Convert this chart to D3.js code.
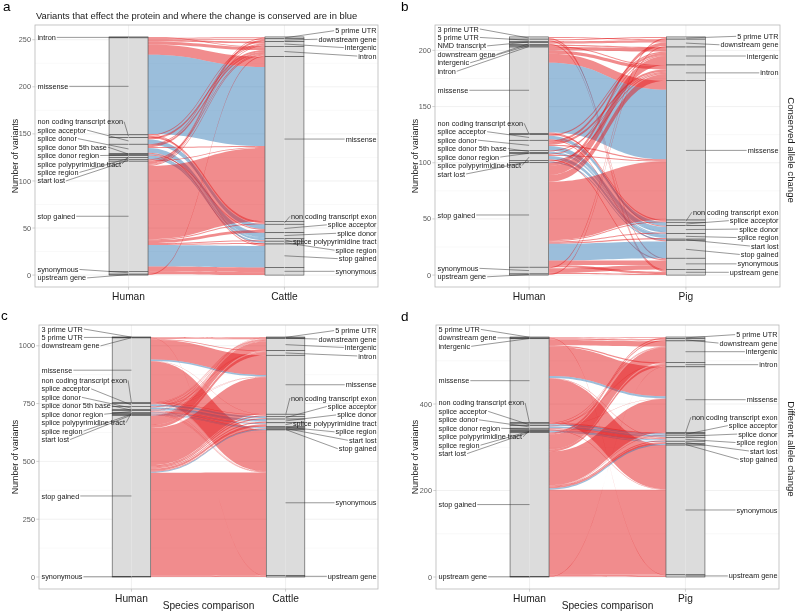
<!DOCTYPE html>
<html><head><meta charset="utf-8">
<script src="https://cdn.jsdelivr.net/npm/d3@7"></script>
<style>body{margin:0;background:#fff}svg{display:block;will-change:transform}text{-webkit-font-smoothing:antialiased}</style>
</head><body>
<svg id="chart" width="799" height="612"></svg>
<script>
// ---------------- DATA ----------------
const titleText = "Variants that effect the protein and where the change is conserved are in blue";

const humanA = ["intron","missense","non coding transcript exon","splice acceptor","splice donor","splice donor 5th base","splice donor region","splice polypyrimidine tract","splice region","start lost","stop gained","synonymous","upstream gene"];
const cattleA = ["5 prime UTR","downstream gene","intergenic","intron","missense","non coding transcript exon","splice acceptor","splice donor","splice polypyrimidine tract","splice region","stop gained","synonymous"];
// [human consequence, other-species consequence, variants, conserved protein change (1 = blue)]
const flowsA = [
 ["intron","intron",1,0],
 ["missense","5 prime UTR",1,0],["missense","downstream gene",1,0],["missense","intergenic",2,0],["missense","intron",3,0],
 ["missense","missense",11,0],["missense","missense",84,1],["missense","stop gained",1,0],
 ["non coding transcript exon","intergenic",1,0],["non coding transcript exon","non coding transcript exon",2,0],
 ["splice acceptor","intron",2,0],["splice acceptor","splice acceptor",5,1],
 ["splice donor","intergenic",1,0],["splice donor","intron",2,0],["splice donor","missense",1,0],["splice donor","splice donor",5,1],["splice donor","stop gained",1,0],
 ["splice donor 5th base","splice donor",1,1],
 ["splice donor region","splice acceptor",1,0],
 ["splice polypyrimidine tract","splice polypyrimidine tract",2,1],
 ["splice region","splice region",2,1],
 ["start lost","intron",1,0],["start lost","missense",1,0],
 ["stop gained","5 prime UTR",1,0],["stop gained","downstream gene",2,0],["stop gained","intergenic",1,0],["stop gained","intron",1,0],
 ["stop gained","missense",78,0],["stop gained","non coding transcript exon",1,0],["stop gained","splice acceptor",3,0],
 ["stop gained","splice polypyrimidine tract",1,0],["stop gained","splice region",1,0],["stop gained","stop gained",23,1],["stop gained","synonymous",5,0],
 ["synonymous","synonymous",3,0],
 ["upstream gene","intron",1,0]
];

const humanB = ["3 prime UTR","5 prime UTR","NMD transcript","downstream gene","intergenic","intron","missense","non coding transcript exon","splice acceptor","splice donor","splice donor 5th base","splice donor region","splice polypyrimidine tract","start lost","stop gained","synonymous","upstream gene"];
const pigB = ["5 prime UTR","downstream gene","intergenic","intron","missense","non coding transcript exon","splice acceptor","splice donor","splice region","start lost","stop gained","synonymous","upstream gene"];
const flowsB = [
 ["3 prime UTR","downstream gene",1,0],["3 prime UTR","upstream gene",1,0],
 ["5 prime UTR","5 prime UTR",1,0],["5 prime UTR","synonymous",1,0],
 ["NMD transcript","downstream gene",1,0],
 ["downstream gene","downstream gene",1,0],["downstream gene","upstream gene",1,0],
 ["intergenic","intergenic",1,0],
 ["intron","intron",1,0],
 ["missense","intergenic",3,0],["missense","intron",3,0],["missense","missense",8,0],["missense","missense",62,1],["missense","splice donor",1,0],
 ["non coding transcript exon","non coding transcript exon",1,0],
 ["splice acceptor","intergenic",1,0],["splice acceptor","splice acceptor",3,1],["splice acceptor","stop gained",1,0],
 ["splice donor","intergenic",2,0],["splice donor","intron",2,0],["splice donor","missense",1,0],["splice donor","splice donor",4,1],
 ["splice donor 5th base","intron",1,0],["splice donor 5th base","splice donor",1,1],
 ["splice donor region","splice region",1,1],
 ["splice polypyrimidine tract","intergenic",1,0],["splice polypyrimidine tract","missense",1,0],["splice polypyrimidine tract","splice region",3,1],["splice polypyrimidine tract","synonymous",1,0],
 ["start lost","intron",1,0],["start lost","start lost",1,1],
 ["stop gained","downstream gene",3,0],["stop gained","intergenic",8,0],["stop gained","intron",6,0],["stop gained","missense",52,0],
 ["stop gained","non coding transcript exon",1,0],["stop gained","splice donor",1,0],["stop gained","splice region",1,0],
 ["stop gained","stop gained",15,1],["stop gained","synonymous",4,0],["stop gained","upstream gene",2,0],
 ["synonymous","5 prime UTR",1,0],["synonymous","synonymous",4,0],["synonymous","upstream gene",1,0],
 ["upstream gene","downstream gene",1,0]
];

const humanC = ["3 prime UTR","5 prime UTR","downstream gene","missense","non coding transcript exon","splice acceptor","splice donor","splice donor 5th base","splice donor region","splice polypyrimidine tract","splice region","start lost","stop gained","synonymous"];
const cattleC = ["5 prime UTR","downstream gene","intergenic","intron","missense","non coding transcript exon","splice acceptor","splice donor","splice polypyrimidine tract","splice region","start lost","stop gained","synonymous","upstream gene"];
const flowsC = [
 ["3 prime UTR","downstream gene",1,0],
 ["5 prime UTR","5 prime UTR",1,0],
 ["downstream gene","downstream gene",1,0],["downstream gene","upstream gene",1,0],
 ["missense","5 prime UTR",1,0],["missense","downstream gene",1,0],["missense","intergenic",3,0],["missense","intron",3,0],
 ["missense","missense",85,0],["missense","missense",7,1],["missense","non coding transcript exon",1,0],["missense","synonymous",178,0],
 ["non coding transcript exon","intergenic",1,0],["non coding transcript exon","non coding transcript exon",3,0],["non coding transcript exon","synonymous",1,0],
 ["splice acceptor","intergenic",2,0],["splice acceptor","intron",1,0],["splice acceptor","missense",1,0],["splice acceptor","splice acceptor",7,1],["splice acceptor","synonymous",1,0],
 ["splice donor","intergenic",2,0],["splice donor","intron",2,0],["splice donor","missense",1,0],["splice donor","splice donor",9,1],["splice donor","synonymous",1,0],
 ["splice donor 5th base","intergenic",1,0],["splice donor 5th base","splice donor",2,1],
 ["splice donor region","intergenic",2,0],["splice donor region","missense",1,0],["splice donor region","splice polypyrimidine tract",2,0],["splice donor region","splice region",2,0],["splice donor region","synonymous",1,0],
 ["splice polypyrimidine tract","splice polypyrimidine tract",4,1],["splice polypyrimidine tract","synonymous",1,0],
 ["splice region","intron",1,0],["splice region","splice region",3,1],["splice region","synonymous",1,0],
 ["start lost","intergenic",1,0],["start lost","start lost",2,1],
 ["stop gained","5 prime UTR",1,0],["stop gained","downstream gene",1,0],["stop gained","intergenic",40,0],["stop gained","intron",13,0],
 ["stop gained","missense",160,0],["stop gained","non coding transcript exon",5,0],["stop gained","splice acceptor",5,0],["stop gained","splice donor",5,0],
 ["stop gained","splice polypyrimidine tract",10,0],["stop gained","splice region",1,0],["stop gained","start lost",3,0],["stop gained","stop gained",4,1],
 ["stop gained","synonymous",445,0],["stop gained","upstream gene",4,0],
 ["synonymous","synonymous",1,0],["synonymous","upstream gene",1,0]
];

const humanD = ["5 prime UTR","downstream gene","intergenic","missense","non coding transcript exon","splice acceptor","splice donor","splice donor region","splice polypyrimidine tract","splice region","start lost","stop gained","upstream gene"];
const pigD = ["5 prime UTR","downstream gene","intergenic","intron","missense","non coding transcript exon","splice acceptor","splice donor","splice region","start lost","stop gained","synonymous","upstream gene"];
const flowsD = [
 ["5 prime UTR","5 prime UTR",1,0],
 ["downstream gene","downstream gene",1,0],["downstream gene","upstream gene",1,0],
 ["intergenic","intergenic",1,0],
 ["missense","5 prime UTR",1,0],["missense","downstream gene",2,0],["missense","intergenic",12,0],["missense","intron",3,0],
 ["missense","missense",68,0],["missense","missense",5,1],["missense","splice region",1,0],["missense","synonymous",102,0],
 ["non coding transcript exon","intergenic",1,0],["non coding transcript exon","non coding transcript exon",2,0],
 ["splice acceptor","intron",1,0],["splice acceptor","splice acceptor",3,1],
 ["splice donor","intergenic",1,0],["splice donor","missense",1,0],["splice donor","splice donor",4,1],
 ["splice donor region","splice donor",1,0],["splice donor region","splice region",2,0],["splice donor region","synonymous",1,0],
 ["splice polypyrimidine tract","splice region",2,0],
 ["splice region","splice region",2,1],
 ["start lost","start lost",2,1],
 ["stop gained","5 prime UTR",2,0],["stop gained","downstream gene",2,0],["stop gained","intergenic",35,0],["stop gained","intron",5,0],
 ["stop gained","missense",78,0],["stop gained","splice acceptor",1,0],["stop gained","splice region",2,0],["stop gained","start lost",4,0],
 ["stop gained","stop gained",3,1],["stop gained","synonymous",197,0],["stop gained","upstream gene",4,0],
 ["upstream gene","intron",1,0]
];

const ticksA = [0,50,100,150,200,250];
const ticksB = [0,50,100,150,200];
const ticksC = [0,250,500,750,1000];
const ticksD = [0,200,400];

// ---------------- LAYOUT ----------------
const FONT = '"Liberation Sans", Arial, Helvetica, sans-serif';
const svg = d3.select("#chart");
const RED = "#E41A1C", BLUE = "#377EB8";

const panels = [
 {letter:"a", lx:3, ly:11, left:35, right:378, top:25, bottom:287, leftCats:humanA, rightCats:cattleA, flows:flowsA, ticks:ticksA, species:"Cattle", ytx:15, xtitle:false},
 {letter:"b", lx:401, ly:11, left:435, right:780, top:25, bottom:287, leftCats:humanB, rightCats:pigB, flows:flowsB, ticks:ticksB, species:"Pig", ytx:415, xtitle:false, strip:"Conserved allele change", stripY:150},
 {letter:"c", lx:1, ly:320, left:39, right:378, top:325, bottom:589, leftCats:humanC, rightCats:cattleC, flows:flowsC, ticks:ticksC, species:"Cattle", ytx:15, xtitle:true},
 {letter:"d", lx:401, ly:321, left:436, right:779, top:325, bottom:589, leftCats:humanD, rightCats:pigD, flows:flowsD, ticks:ticksD, species:"Pig", ytx:415, xtitle:true, strip:"Different allele change", stripY:449}
];

function repel(targets, gap, lo, hi) {
  const n = targets.length;
  const u = targets.map((t,i) => t - i*gap);
  const blocks = [];
  for (let i=0;i<n;i++) {
    blocks.push({sum:u[i], n:1});
    while (blocks.length>1) {
      const b = blocks[blocks.length-1], a = blocks[blocks.length-2];
      if (a.sum/a.n > b.sum/b.n) { a.sum += b.sum; a.n += b.n; blocks.pop(); } else break;
    }
  }
  const out = [];
  blocks.forEach(b => { for (let k=0;k<b.n;k++) out.push(b.sum/b.n); });
  const maxU = hi - (n-1)*gap;
  return out.map((v,i) => Math.min(Math.max(v, lo), maxU) + i*gap);
}

function drawPanel(p) {
  const g = svg.append("g");
  const leftTot = new Map(p.leftCats.map(c => [c,0]));
  const rightTot = new Map(p.rightCats.map(c => [c,0]));
  p.flows.forEach(f => { leftTot.set(f[0], leftTot.get(f[0]) + f[2]); rightTot.set(f[1], rightTot.get(f[1]) + f[2]); });
  const total = d3.sum(p.flows, f => f[2]);
  const y = d3.scaleLinear().domain([-0.05*total, 1.05*total]).range([p.bottom, p.top]);
  const x = d3.scalePoint().domain(["Human", p.species]).range([p.left, p.right]).padding(0.6);
  const step = x.step(), w = step*0.25;
  const xL = x("Human"), xR = x(p.species);

  // grid
  const maj = p.ticks, dt = maj[1]-maj[0];
  const minor = [];
  for (let v = maj[0]-dt/2; v <= 1.05*total; v += dt) if (v >= -0.05*total) minor.push(v);
  g.selectAll(".mn").data(minor).join("line").attr("x1",p.left).attr("x2",p.right)
    .attr("y1",d=>y(d)).attr("y2",d=>y(d)).attr("stroke","#f3f3f3").attr("stroke-width",0.5);
  g.selectAll(".mj").data(maj).join("line").attr("x1",p.left).attr("x2",p.right)
    .attr("y1",d=>y(d)).attr("y2",d=>y(d)).attr("stroke","#e8e8e8").attr("stroke-width",0.6);
  g.selectAll(".vx").data(x.domain()).join("line").attr("x1",d=>x(d)).attr("x2",d=>x(d))
    .attr("y1",p.top).attr("y2",p.bottom).attr("stroke","#e8e8e8").attr("stroke-width",0.6);

  // strata stacks
  function stack(cats, tot) {
    const m = new Map(); let cum = total;
    cats.forEach(c => { const v = tot.get(c); m.set(c, {top:cum, bot:cum - v, v}); cum -= v; });
    return m;
  }
  const sL = stack(p.leftCats, leftTot), sR = stack(p.rightCats, rightTot);
  const li = new Map(p.leftCats.map((c,i)=>[c,i])), ri = new Map(p.rightCats.map((c,i)=>[c,i]));
  const fl = p.flows.map(f => ({from:f[0], to:f[1], v:f[2], cons:f[3]}));
  p.leftCats.forEach(c => {
    let cur = sL.get(c).top;
    fl.filter(f => f.from===c).sort((a,b)=> (ri.get(a.to)-ri.get(b.to)) || (a.cons-b.cons))
      .forEach(f => { f.l0 = cur; f.l1 = cur - f.v; cur -= f.v; });
  });
  p.rightCats.forEach(c => {
    let cur = sR.get(c).top;
    fl.filter(f => f.to===c).sort((a,b)=> (li.get(a.from)-li.get(b.from)) || (a.cons-b.cons))
      .forEach(f => { f.r0 = cur; f.r1 = cur - f.v; cur -= f.v; });
  });
  const x0 = xL + w/2, x1 = xR - w/2, k = (x1-x0)*0.5;
  function ribbon(f) {
    const a0=y(f.l0), a1=y(f.l1), b0=y(f.r0), b1=y(f.r1);
    return `M${x0},${a0}C${x0+k},${a0} ${x1-k},${b0} ${x1},${b0}L${x1},${b1}C${x1-k},${b1} ${x0+k},${a1} ${x0},${a1}Z`;
  }
  g.append("g").selectAll("path").data(fl).join("path").attr("d", ribbon)
    .attr("fill", d => d.cons ? BLUE : RED).attr("fill-opacity", 0.5);

  // strata
  function drawStrata(m, cx) {
    const arr = [...m.entries()].filter(e => e[1].v > 0);
    g.append("g").selectAll("rect").data(arr).join("rect")
      .attr("x", cx - w/2).attr("width", w)
      .attr("y", d => y(d[1].top)).attr("height", d => y(d[1].bot) - y(d[1].top))
      .attr("fill", "#dcdcdc").attr("stroke", "#4a4a4a").attr("stroke-width", 0.6);
    g.append("line").attr("x1",cx).attr("x2",cx).attr("y1",y(total)).attr("y2",y(0))
      .attr("stroke","#e9e9e9").attr("stroke-width",0.5);
    return arr;
  }
  const aL = drawStrata(sL, xL), aR = drawStrata(sR, xR);

  // labels
  const FS = 7.3, GAP = 8.45;
  function labels(arr, cx, side) {
    const targets = arr.map(d => y((d[1].top + d[1].bot)/2));
    const ys = repel(targets, GAP, p.top + 4, p.bottom - 4);
    arr.forEach((d,i) => {
      const t = g.append("text").attr("font-family", FONT).attr("font-size", FS).attr("fill", "#1a1a1a")
        .attr("y", ys[i]).attr("dy", "0.35em").text(d[0]);
      let sx;
      if (side === "L") { t.attr("x", p.left + 2.5).attr("text-anchor","start");
        sx = p.left + 2.5 + t.node().getComputedTextLength() + 1; }
      else { t.attr("x", p.right - 1.5).attr("text-anchor","end");
        sx = p.right - 1.5 - t.node().getComputedTextLength() - 1; }
      g.append("line").attr("x1", sx).attr("y1", ys[i]).attr("x2", cx).attr("y2", targets[i])
        .attr("stroke", "#333").attr("stroke-width", 0.5);
    });
  }
  labels(aL, xL, "L");
  labels(aR, xR, "R");

  // border
  g.append("rect").attr("x",p.left).attr("y",p.top).attr("width",p.right-p.left).attr("height",p.bottom-p.top)
    .attr("fill","none").attr("stroke","#b8b8b8").attr("stroke-width",0.8);

  // y axis
  maj.forEach(v => {
    g.append("line").attr("x1",p.left-2.7).attr("x2",p.left).attr("y1",y(v)).attr("y2",y(v)).attr("stroke","#b3b3b3").attr("stroke-width",0.6);
    g.append("text").attr("x",p.left-4).attr("y",y(v)).attr("dy","0.35em").attr("text-anchor","end")
      .attr("font-family",FONT).attr("font-size",7.3).attr("fill","#5a5a5a").text(v);
  });
  // x axis
  x.domain().forEach(d => {
    g.append("line").attr("x1",x(d)).attr("x2",x(d)).attr("y1",p.bottom).attr("y2",p.bottom+2.7).attr("stroke","#b3b3b3").attr("stroke-width",0.6);
    g.append("text").attr("x",x(d)).attr("y",p.bottom+12.5).attr("text-anchor","middle")
      .attr("font-family",FONT).attr("font-size",10.2).attr("fill","#1a1a1a").text(d);
  });
  g.append("text").attr("transform",`translate(${p.ytx},${(p.top+p.bottom)/2}) rotate(-90)`).attr("dy","0.35em")
    .attr("text-anchor","middle").attr("font-family",FONT).attr("font-size",8.8).attr("fill","#1a1a1a").text("Number of variants");
  if (p.xtitle) g.append("text").attr("x",(p.left+p.right)/2).attr("y",p.bottom+20).attr("text-anchor","middle")
    .attr("font-family",FONT).attr("font-size",10.2).attr("fill","#1a1a1a").text("Species comparison");
  if (p.strip) g.append("text").attr("transform",`translate(787.5,${p.stripY}) rotate(90)`).attr("text-anchor","middle")
    .attr("font-family",FONT).attr("font-size",9.6).attr("fill","#1a1a1a").text(p.strip);
  svg.append("text").attr("x",p.lx).attr("y",p.ly).attr("font-family",FONT).attr("font-size",13.5).attr("fill","#000").text(p.letter);
}

panels.forEach(drawPanel);
svg.append("text").attr("x",36).attr("y",19).attr("font-family",FONT).attr("font-size",9.4).attr("fill","#1a1a1a").text(titleText);
</script>
</body></html>
